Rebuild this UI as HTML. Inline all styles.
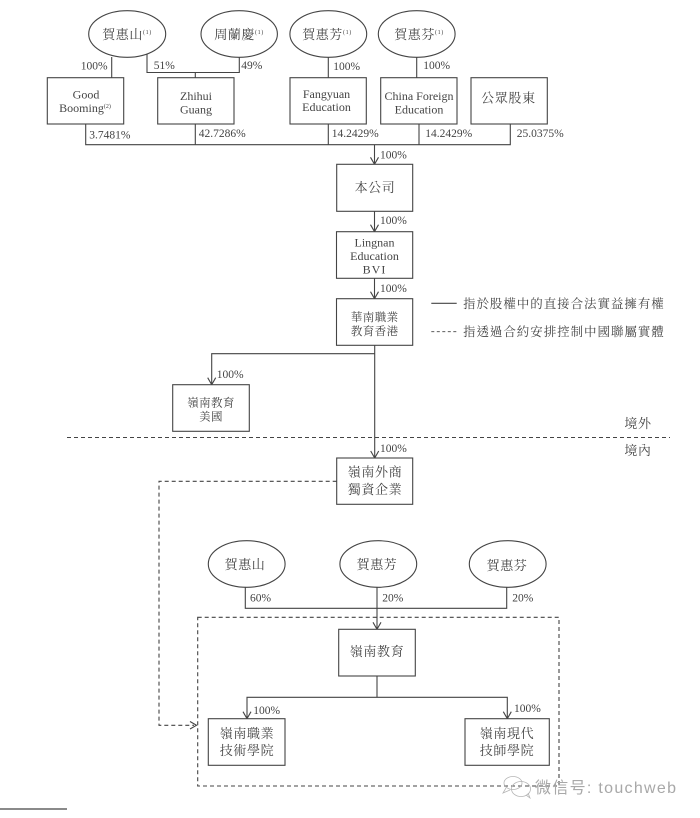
<!DOCTYPE html>
<html>
<head>
<meta charset="utf-8">
<style>
html,body{margin:0;padding:0;background:#fff;width:700px;height:818px;overflow:hidden}
svg{display:block}
text{font-family:"Liberation Serif","Noto Serif CJK TC","Noto Serif CJK SC",serif;fill:#444}
.p{font-size:11.5px}
.l{font-size:12px;text-anchor:middle}
.c{font-size:13px;text-anchor:middle;letter-spacing:.6px}
.s{font-size:11.5px;text-anchor:middle;letter-spacing:.4px}
.sup{font-size:6px}
.leg{font-size:12.5px;letter-spacing:.95px}
.b{fill:#fff;stroke:#444;stroke-width:1.1}
.n{fill:none;stroke:#444;stroke-width:1.1}
.d{fill:none;stroke:#444;stroke-width:1.1;stroke-dasharray:4 3}
</style>
</head>
<body>
<svg width="700" height="818" viewBox="0 0 700 818" xmlns="http://www.w3.org/2000/svg">
<rect width="700" height="818" fill="#fff"/>

<!-- top connectors -->
<path class="n" d="M111.7 57V78M147 54V72.5H239.3V57M195.3 72.5V78M328.3 57V78M416.7 57V78"/>
<path class="n" d="M85.7 124V144.7H510.3V124M195.3 124V144.7M328.3 124V144.7M419 124V144.7"/>
<path class="n" d="M374.5 144.7V164.3M370.5 157.3L374.5 164.3L378.5 157.3"/>
<path class="n" d="M374.5 211.3V231.7M370.5 224.7L374.5 231.7L378.5 224.7"/>
<path class="n" d="M374.5 278.3V298.7M370.5 291.7L374.5 298.7L378.5 291.7"/>
<path class="n" d="M374.7 345.3V458M370.7 451L374.7 458L378.7 451"/>
<path class="n" d="M374.7 353.7H211.7V384.7M207.7 377.7L211.7 384.7L215.7 377.7"/>

<!-- top ellipses -->
<ellipse class="b" cx="127.2" cy="34" rx="38.5" ry="23.3"/>
<ellipse class="b" cx="239.2" cy="34" rx="38.2" ry="23.3"/>
<ellipse class="b" cx="328.3" cy="34" rx="38.4" ry="23.3"/>
<ellipse class="b" cx="416.7" cy="34" rx="38.4" ry="23.3"/>
<text class="c" x="127" y="39">賀惠山<tspan class="sup" dy="-5">(1)</tspan></text>
<text class="c" x="239" y="39">周蘭慶<tspan class="sup" dy="-5">(1)</tspan></text>
<text class="c" x="327" y="39">賀惠芳<tspan class="sup" dy="-5">(1)</tspan></text>
<text class="c" x="419" y="39">賀惠芬<tspan class="sup" dy="-5">(1)</tspan></text>

<!-- top boxes -->
<rect class="b" x="47.3" y="77.7" width="76.4" height="46.3"/>
<rect class="b" x="157.7" y="77.7" width="76.3" height="46.3"/>
<rect class="b" x="290" y="77.7" width="76.3" height="46.3"/>
<rect class="b" x="380.7" y="77.7" width="76.3" height="46.3"/>
<rect class="b" x="471" y="77.7" width="76.3" height="46.3"/>
<text class="l" x="86" y="98.5">Good</text>
<text class="l" x="85" y="112">Booming<tspan class="sup" dy="-4">(2)</tspan></text>
<text class="l" x="196" y="100">Zhihui</text>
<text class="l" x="196" y="113.3">Guang</text>
<text class="l" x="326.5" y="98">Fangyuan</text>
<text class="l" x="326.5" y="111">Education</text>
<text class="l" x="419" y="100">China Foreign</text>
<text class="l" x="419" y="113.3">Education</text>
<text class="c" x="508.5" y="102.5">公眾股東</text>

<!-- top percents -->
<text class="p" x="80.7" y="69.5">100%</text>
<text class="p" x="153.7" y="69">51%</text>
<text class="p" x="241.3" y="69">49%</text>
<text class="p" x="333.3" y="70">100%</text>
<text class="p" x="423.3" y="69">100%</text>
<text class="p" x="89.3" y="138.5">3.7481%</text>
<text class="p" x="198.7" y="137">42.7286%</text>
<text class="p" x="331.7" y="137">14.2429%</text>
<text class="p" x="425.3" y="137">14.2429%</text>
<text class="p" x="516.7" y="137">25.0375%</text>
<text class="p" x="380" y="158.5">100%</text>
<text class="p" x="380" y="224">100%</text>
<text class="p" x="380" y="292">100%</text>
<text class="p" x="216.7" y="378">100%</text>
<text class="p" x="380" y="452">100%</text>

<!-- middle boxes -->
<rect class="b" x="336.7" y="164.3" width="76" height="47"/>
<text class="c" x="375" y="192">本公司</text>
<rect class="b" x="336.5" y="231.7" width="76.2" height="46.6"/>
<text class="l" x="374.5" y="246.5">Lingnan</text>
<text class="l" x="374.5" y="260">Education</text>
<text class="l" x="374.5" y="273.3" style="letter-spacing:1px">BVI</text>
<rect class="b" x="336.5" y="298.7" width="76.2" height="46.6"/>
<text class="s" x="374.7" y="321">華南職業</text>
<text class="s" x="374.7" y="335">教育香港</text>
<rect class="b" x="172.7" y="384.7" width="76.6" height="46.6"/>
<text class="s" x="211" y="406.5">嶺南教育</text>
<text class="s" x="211" y="420.5">美國</text>

<!-- legend -->
<path class="n" d="M431.3 303.3H456.7"/>
<path class="n" d="M431.3 331.7H457" style="stroke-dasharray:3 2.5;stroke-width:.9"/>
<text class="leg" x="463" y="308">指於股權中的直接合法實益擁有權</text>
<text class="leg" x="463" y="336">指透過合約安排控制中國聯屬實體</text>

<!-- border -->
<path class="d" d="M67 437.5H670"/>
<text class="c" x="638" y="428">境外</text>
<text class="c" x="638" y="455">境內</text>

<!-- lower -->
<rect class="b" x="336.7" y="458" width="76" height="46.3"/>
<text class="c" x="375" y="476.5">嶺南外商</text>
<text class="c" x="375" y="494">獨資企業</text>
<path class="d" d="M336.7 481.3H159V725.3H194"/>
<path class="n" d="M190 721.5L196.5 725.3L190 729"/>

<ellipse class="b" cx="246.7" cy="564" rx="38.4" ry="23.3"/>
<ellipse class="b" cx="378.3" cy="564" rx="38.4" ry="23.3"/>
<ellipse class="b" cx="507.7" cy="564" rx="38.4" ry="23.3"/>
<text class="c" x="245" y="569">賀惠山</text>
<text class="c" x="377" y="569">賀惠芳</text>
<text class="c" x="507" y="570">賀惠芬</text>
<path class="n" d="M245.3 587.3V608.3H506.7V587.3"/>
<text class="p" x="250" y="601.5">60%</text>
<text class="p" x="382.3" y="601.5">20%</text>
<text class="p" x="512.3" y="601.5">20%</text>

<rect class="d" x="197.7" y="617.3" width="361.3" height="168.7"/>
<path class="n" d="M377 587.3V629.3M373 622.3L377 629.3L381 622.3"/>
<rect class="b" x="338.7" y="629.3" width="76.6" height="46.7"/>
<text class="c" x="377" y="656">嶺南教育</text>
<path class="n" d="M377 676V697.3M247 718.7V697.3H507.3V718.7M243 711.7L247 718.7L251 711.7M503.3 711.7L507.3 718.7L511.3 711.7"/>
<text class="p" x="253.3" y="714">100%</text>
<text class="p" x="514" y="712">100%</text>
<rect class="b" x="208.3" y="718.7" width="76.7" height="46.6"/>
<text class="c" x="247" y="738">嶺南職業</text>
<text class="c" x="247" y="755">技術學院</text>
<rect class="b" x="465" y="718.7" width="84.3" height="46.6"/>
<text class="c" x="507" y="738">嶺南現代</text>
<text class="c" x="507" y="755">技師學院</text>

<!-- footnote rule -->
<rect x="0" y="808" width="67" height="2" fill="#8a8a8a"/>

<!-- watermark -->
<g fill="none" stroke="#b5b5b5" stroke-width=".8">
<ellipse cx="513" cy="783" rx="9" ry="6.5"/>
<ellipse cx="521" cy="789" rx="9.5" ry="7.5"/>
<path d="M506 788L503 793L510 790M526 795L530 798L528 793"/>
</g>
<text x="535" y="793" style='font-family:"Liberation Sans","Noto Sans CJK SC",sans-serif;font-size:16px;fill:#a8a8a8;letter-spacing:1.3px'>微信号: touchweb</text>
</svg>
</body>
</html>
